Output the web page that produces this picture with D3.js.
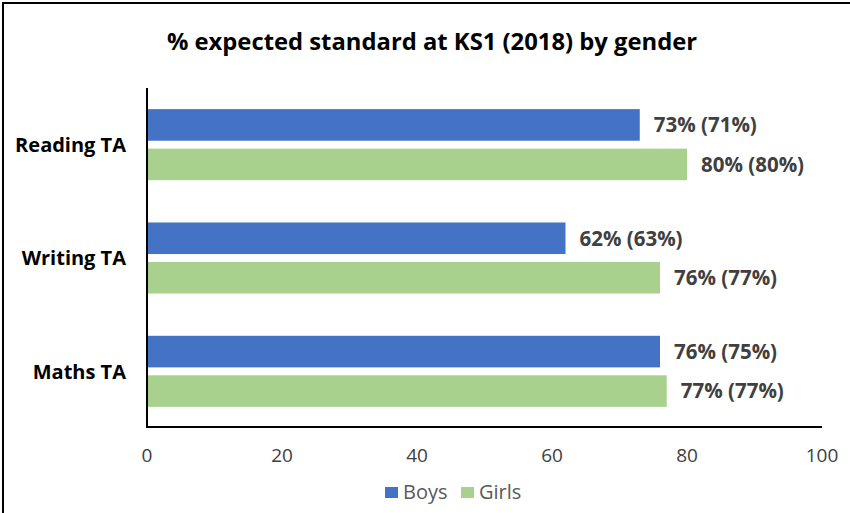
<!DOCTYPE html>
<html>
<head>
<meta charset="utf-8">
<script src="https://cdn.jsdelivr.net/npm/d3@7"></script>
<style>
  body { margin: 0; background: #fff; }
  svg { display: block; }
</style>
</head>
<body>
<div id="chart"></div>
<script>
// datos
const subjects = ["Reading TA", "Writing TA", "Maths TA"];
const series = ["Boys", "Girls"];
const boys = [73, 62, 76];
const girls = [80, 76, 77];
const boysLabels = ["73% (71%)", "62% (63%)", "76% (75%)"];
const girlsLabels = ["80% (80%)", "76% (77%)", "77% (77%)"];
const ticks = [0, 20, 40, 60, 80, 100];
const colors = ["#4472c4", "#a9d18e"];

const width = 850, height = 513;
const font = "'Open Sans', Lato, sans-serif";

const svg = d3.select("#chart").append("svg")
  .attr("width", width)
  .attr("height", height);

// marco del grafico
svg.append("rect")
  .attr("x", 3).attr("y", 3)
  .attr("width", 880).attr("height", 540)
  .attr("fill", "none")
  .attr("stroke", "#000")
  .attr("stroke-width", 2);

svg.append("text")
  .attr("x", 432).attr("y", 50)
  .attr("text-anchor", "middle")
  .style("font-family", font)
  .style("font-weight", "bold")
  .style("font-size", "23.8px")
  .attr("fill", "#000")
  .text("% expected standard at KS1 (2018) by gender");

const x = d3.scaleLinear().domain([0, 100]).range([147, 822]);
const y = d3.scaleBand().domain(subjects).range([88, 428]).paddingInner(0.373).paddingOuter(0.1865);
const y1 = d3.scaleBand().domain(series).range([0, y.bandwidth()]).paddingInner(0.2);

const rows = subjects.map((s, i) => ({
  subject: s,
  vals: [
    { key: "Boys", v: boys[i], label: boysLabels[i] },
    { key: "Girls", v: girls[i], label: girlsLabels[i] }
  ]
}));

const g = svg.selectAll(".grupo")
  .data(rows)
  .enter().append("g")
  .attr("class", "grupo")
  .attr("transform", d => "translate(0," + y(d.subject) + ")");

g.selectAll("rect")
  .data(d => d.vals)
  .enter().append("rect")
  .attr("x", x(0))
  .attr("y", d => y1(d.key))
  .attr("width", d => x(d.v) - x(0))
  .attr("height", y1.bandwidth())
  .attr("fill", (d, i) => colors[i]);

g.selectAll(".valor")
  .data(d => d.vals)
  .enter().append("text")
  .attr("class", "valor")
  .attr("x", d => x(d.v) + 14)
  .attr("y", d => y1(d.key) + y1.bandwidth() / 2)
  .attr("dy", "0.36em")
  .style("font-family", font)
  .style("font-weight", "bold")
  .style("font-size", "20.5px")
  .attr("fill", "#404040")
  .text(d => d.label);

// etiquetas de categorias
svg.selectAll(".cat")
  .data(subjects)
  .enter().append("text")
  .attr("class", "cat")
  .attr("x", 126)
  .attr("y", d => y(d) + y.bandwidth() / 2)
  .attr("dy", "0.36em")
  .attr("text-anchor", "end")
  .style("font-family", font)
  .style("font-weight", "bold")
  .style("font-size", "20px")
  .attr("fill", "#000")
  .text(d => d);

// ejes
svg.append("line")
  .attr("x1", x(0)).attr("x2", x(0))
  .attr("y1", 88).attr("y2", 428)
  .attr("stroke", "#000").attr("stroke-width", 2);
svg.append("line")
  .attr("x1", x(0) - 1).attr("x2", x(100))
  .attr("y1", 427).attr("y2", 427)
  .attr("stroke", "#000").attr("stroke-width", 2);

svg.selectAll(".tick")
  .data(ticks)
  .enter().append("text")
  .attr("class", "tick")
  .attr("x", d => x(d))
  .attr("y", 462)
  .attr("text-anchor", "middle")
  .style("font-family", font)
  .style("font-size", "19px")
  .attr("fill", "#404040")
  .text(d => d);

// leyenda
const legX = [385, 461];
const leg = svg.selectAll(".leg")
  .data(series)
  .enter().append("g")
  .attr("class", "leg")
  .attr("transform", (d, i) => "translate(" + legX[i] + ",487)");
leg.append("rect")
  .attr("width", 13).attr("height", 11)
  .attr("fill", (d, i) => colors[i]);
leg.append("text")
  .attr("x", 18).attr("y", 12)
  .style("font-family", font)
  .style("font-size", "20px")
  .attr("fill", "#595959")
  .text(d => d);
</script>
</body>
</html>
